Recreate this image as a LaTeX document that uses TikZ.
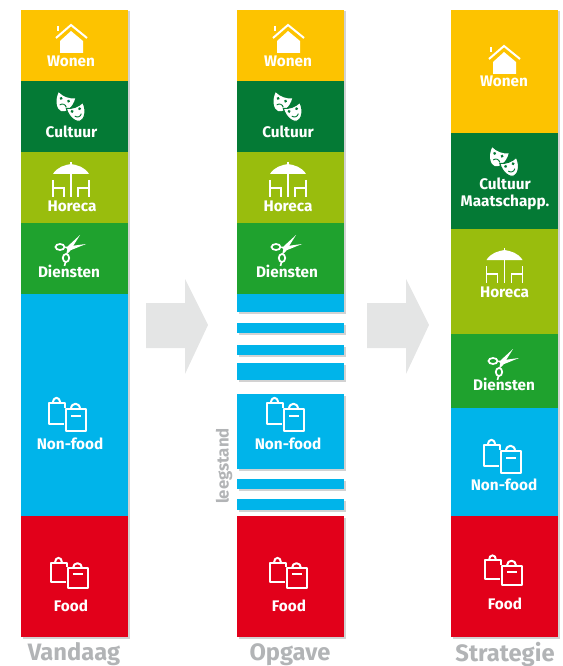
\documentclass[tikz,border=0pt]{standalone}
\usepackage{fontspec}
\setmainfont{Fira Sans}
\definecolor{cwonen}{HTML}{FDC300}
\definecolor{ccult}{HTML}{047A35}
\definecolor{choreca}{HTML}{99BD0D}
\definecolor{cdienst}{HTML}{1FA22E}
\definecolor{cnon}{HTML}{00B4EA}
\definecolor{cfood}{HTML}{E2001A}
\definecolor{cgreyt}{HTML}{B2B4B6}
\definecolor{carrow}{HTML}{E4E5E5}
\newcommand{\maskshape}{(-10,-8) .. controls (-3,-5) and (3,-5) .. (10,-8) .. controls (11,3) and (5,11) .. (0,11) .. controls (-5,11) and (-11,3) .. (-10,-8) -- cycle}
\tikzset{
  x=0.75pt,y=-0.75pt,
  lab/.style={text=white,font=\bfseries\fontsize{11.5}{12.8}\selectfont,inner sep=0pt,align=center},
  captxt/.style={text=cgreyt,font=\bfseries\fontsize{17.8}{18}\selectfont,inner sep=0pt},
  ico/.style={draw=white,line width=1.5pt,fill=none,line join=round},
  pics/house/.style={code={
    \fill[white] (-11,2) -- (0,-8) -- (12,2) -- (12,14) -- (-11,14) -- cycle;
    \draw[white,line width=1.5pt] (-15,-1) -- (0,-14) -- (16,-1);
    \draw[white,line width=1.1pt] (-13,-13) -- (-13,-8);
  }},
  pics/masks/.style={code={
    \begin{scope}[shift={(-6.5,-3)},rotate=-20,scale=.88]
      \fill[white] \maskshape;
      \fill[ccult] (-5,-2.5) circle (1.8) (4,-2.5) circle (1.8);
      \draw[ccult,line width=.7pt] (-4,5) .. controls (-2,2) and (2,2) .. (4,5);
    \end{scope}
    \begin{scope}[shift={(6,7)},rotate=20,scale=.88]
      \fill[white,draw=ccult,line width=.8pt] \maskshape;
      \fill[ccult] (-5,-2.5) circle (1.8) (4,-2.5) circle (1.8);
      \draw[ccult,line width=.7pt] (-4,3.5) .. controls (-2,6.5) and (2,6.5) .. (4,3.5);
    \end{scope}
  }},
  pics/parasol/.style={code={
    \fill[white] (-18,-9) .. controls (-14,-16) and (-6,-18) .. (0,-19) .. controls (6,-18) and (14,-16) .. (18,-9) -- cycle;
    \draw[white,line width=1.1pt] (0,-21) -- (0,14);
    \draw[white,line width=1pt] (-18,-3) -- (-18,14) (-18,5) -- (-7,5) -- (-7,14)
      (18,-3) -- (18,14) (18,5) -- (7,5) -- (7,14);
  }},
  pics/scissors/.style={code={
    \draw[white,line width=1.3pt] (-8,-2) ellipse (4.5 and 3);
    \draw[white,line width=1.3pt] (-2,9) ellipse (3.2 and 4);
    \fill[white] (-4,-2) -- (2,1.5) -- (18,-5) -- (3,-3) -- cycle;
    \fill[white] (-2,6) -- (2,2) -- (12,-14) -- (0,-3) -- cycle;
    \draw[white,line width=1.2pt] (-2.5,13) -- (-3.5,17);
  }},
  pics/bags/.style={code={
    \draw[ico] (-18,-11) rectangle (-2,10);
    \fill[#1] (-3,-6) rectangle (0,18);
    \draw[ico] (-1,-5) rectangle (19,17);
    \draw[ico] (-14,-11) .. controls (-14,-18) and (-7,-18) .. (-7,-11);
    \draw[ico] (4,-5) .. controls (4,-12) and (13,-12) .. (13,-5);
    \draw[white,line width=1.6pt] (4,2) -- (14,2);
  }},
  pics/bags/.default=cnon
}
\newcommand{\bandrect}[5]{%
  \fill[black!35,opacity=.5] (#2+1.5,#3+1.5) rectangle (#4+1.5,#5+1.5);
  \fill[#1] (#2,#3) rectangle (#4,#5);}
\begin{document}
\begin{tikzpicture}
\useasboundingbox (0,0) rectangle (562,666);
% arrows
\fill[carrow] (146,303) -- (185,303) -- (185,279) -- (208,325) -- (185,374) -- (185,348) -- (146,348) -- cycle;
\fill[carrow] (367,303) -- (406,303) -- (406,279) -- (429,325) -- (406,374) -- (406,348) -- (367,348) -- cycle;
% left
\bandrect{cwonen}{21}{10}{128}{81}
\bandrect{ccult}{21}{81}{128}{152}
\bandrect{choreca}{21}{152}{128}{223}
\bandrect{cdienst}{21}{223}{128}{294}
\bandrect{cnon}{21}{294}{128}{516}
\bandrect{cfood}{21}{516}{128}{637}
% middle
\bandrect{cwonen}{237}{10}{344}{81}
\bandrect{ccult}{237}{81}{344}{152}
\bandrect{choreca}{237}{152}{344}{223}
\bandrect{cdienst}{237}{223}{344}{294}
\bandrect{cnon}{237}{294}{344}{312}
\bandrect{cnon}{237}{323}{344}{333}
\bandrect{cnon}{237}{345}{344}{355}
\bandrect{cnon}{237}{363}{344}{380}
\bandrect{cnon}{237}{394}{344}{469}
\bandrect{cnon}{237}{479}{344}{489}
\bandrect{cnon}{237}{499}{344}{510}
\bandrect{cfood}{237}{516}{344}{637}
% right
\bandrect{cwonen}{451}{10}{558}{133}
\bandrect{ccult}{451}{133}{558}{229}
\bandrect{choreca}{451}{229}{558}{334}
\bandrect{cdienst}{451}{334}{558}{408}
\bandrect{cnon}{451}{408}{558}{516}
\bandrect{cfood}{451}{516}{558}{637}
% icons left
\pic at (71,39) {house};
\pic at (71,105) {masks};
\pic at (71,183) {parasol};
\pic at (68,249) {scissors};
\pic at (67,414) {bags};
\pic[yscale=.9] at (69,572.5) {bags=cfood};
% icons middle
\pic at (288,39) {house};
\pic at (288,105) {masks};
\pic at (288,183) {parasol};
\pic at (284,249) {scissors};
\pic at (285,414) {bags};
\pic[yscale=.9] at (288,572.5) {bags=cfood};
% icons right
\pic at (504,60) {house};
\pic at (504.5,160) {masks};
\pic at (504.5,269) {parasol};
\pic at (501,363) {scissors};
\pic at (502,456) {bags};
\pic[yscale=.9] at (503,570) {bags=cfood};
% labels
\node[lab] (w1) at (71,61.5) {Wonen};
\node[lab] (c1) at (71.5,131.5) {Cultuur};
\node[lab] (h1) at (72,206.5) {Horeca};
\node[lab] (d1) at (69,271.5) {Diensten};
\node[lab] (n1) at (70,443.5) {Non-food};
\node[lab] (f1) at (71,605.5) {Food};
\node[lab] (w2) at (288,61.5) {Wonen};
\node[lab] (c2) at (288,131.5) {Cultuur};
\node[lab] (h2) at (288,206.5) {Horeca};
\node[lab] (d2) at (287,271.5) {Diensten};
\node[lab] (n2) at (288,443.5) {Non-food};
\node[lab] (f2) at (289,605.5) {Food};
\node[lab] (w3) at (504,81.5) {Wonen};
\node[lab] (c3) at (505,194) {Cultuur\\Maatschapp.};
\node[lab] (h3) at (504.5,292.5) {Horeca};
\node[lab] (d3) at (504,384.5) {Diensten};
\node[lab] (n3) at (504,484.5) {Non-food};
\node[lab] (f3) at (505,603.5) {Food};
\node[captxt] (t1) at (74,654.5) {Vandaag};
\node[captxt] (t2) at (290,654.5) {Opgave};
\node[captxt] (t3) at (505,654.5) {Strategie};
\node[captxt,font=\bfseries\fontsize{12.6}{13}\selectfont,rotate=90] (lee) at (224,466) {leegstand};
\end{tikzpicture}
\end{document}
